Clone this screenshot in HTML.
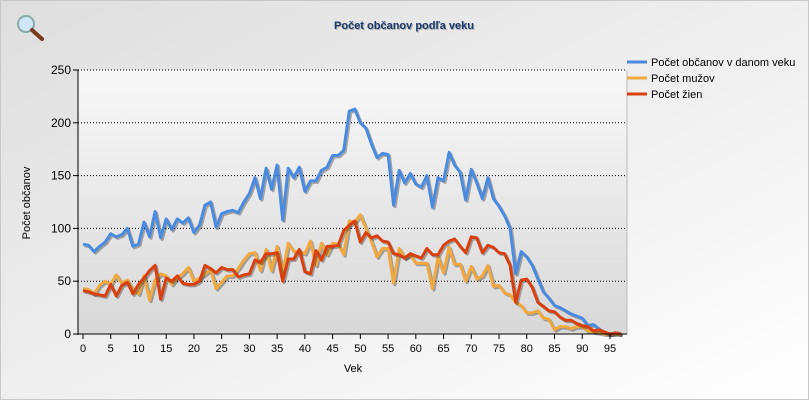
<!DOCTYPE html>
<html><head><meta charset="utf-8"><style>
body{margin:0;width:809px;height:400px;overflow:hidden;font-family:"Liberation Sans",Arial,sans-serif;}
</style></head><body>
<svg id="s" width="809" height="400" xmlns="http://www.w3.org/2000/svg" style="display:block">
<defs>
<linearGradient id="bg" x1="0" y1="0" x2="1" y2="1"><stop offset="0" stop-color="#dedede"/><stop offset="1" stop-color="#ffffff"/></linearGradient>
<linearGradient id="pa" x1="0" y1="0" x2="0" y2="1"><stop offset="0" stop-color="#f8f8f8"/><stop offset="1" stop-color="#d8d8d8"/></linearGradient>
</defs>
<rect width="809" height="400" fill="url(#bg)"/>
<rect x="0.5" y="0.5" width="808" height="399" fill="none" stroke="#c8c8c8"/>
<rect x="78" y="70" width="549" height="264" fill="url(#pa)"/>
<line x1="627" y1="70" x2="627" y2="334" stroke="#bbb"/>
<g id="grid"></g>
<g id="series"></g>
<line x1="78" y1="70" x2="78" y2="335" stroke="#000"/>
<line x1="78" y1="334" x2="627" y2="334" stroke="#000"/>
<g id="ticks" font-size="12" fill="#000"></g>
<text x="404" y="29" text-anchor="middle" font-size="11" font-weight="bold" fill="#aaa" dx="1" dy="1">Počet občanov podľa veku</text>
<text x="404" y="29" text-anchor="middle" font-size="11" font-weight="bold" fill="#1a3a6a">Počet občanov podľa veku</text>
<text x="353" y="372" text-anchor="middle" font-size="11">Vek</text>
<text transform="translate(30,203) rotate(-90)" text-anchor="middle" font-size="11">Počet občanov</text>
<g font-size="11">
<line x1="627" y1="62" x2="647" y2="62" stroke="#4a8be0" stroke-width="3"/><text x="651" y="66">Počet občanov v danom veku</text>
<line x1="627" y1="78" x2="647" y2="78" stroke="#f0a840" stroke-width="3"/><text x="651" y="82">Počet mužov</text>
<line x1="627" y1="94" x2="647" y2="94" stroke="#d84010" stroke-width="3"/><text x="651" y="98">Počet žien</text>
</g>
<g transform="translate(16,14)">
<circle cx="10" cy="10" r="8" fill="#cfe6f6" stroke="#8aa" stroke-width="2"/>
<line x1="16" y1="16" x2="26" y2="25" stroke="#7a3a20" stroke-width="4" stroke-linecap="round"/>
</g>
</svg>
<script>
var T=[85,84,78,83,87,95,92,94,100,83,85,106,92,116,91,109,99,109,105,110,96,103,122,125,101,114,116,117,115,125,133,148,128,157,137,160,108,157,148,158,135,145,145,155,158,169,169,174,211,213,200,195,180,167,171,170,122,155,143,152,142,139,150,120,148,145,172,160,153,127,156,143,128,148,128,121,112,100,57,78,73,65,52,40,34,27,25,22,19,17,15,8,9,5,1,0,1,0];
var M=[43,42,38,46,50,47,56,48,51,42,38,55,32,51,57,55,47,53,57,63,50,53,57,61,43,49,55,55,62,70,76,77,60,80,60,83,58,86,78,78,76,88,65,86,75,86,85,75,107,106,113,100,88,73,81,81,48,81,72,75,67,67,67,43,73,58,82,66,66,50,64,52,55,65,45,46,39,37,30,27,20,20,22,15,14,4,7,7,5,7,7,3,2,1,0,0,0,0];
var W=[41,40,38,37,36,47,36,46,49,38,47,53,60,65,33,53,50,55,48,47,47,50,65,62,58,63,61,61,54,56,57,70,68,76,76,77,50,71,71,80,59,57,79,70,83,83,84,98,103,107,87,96,91,93,88,87,76,75,72,76,74,72,81,75,75,84,88,90,83,77,92,91,77,84,82,77,76,65,30,51,52,44,30,26,22,21,16,13,13,10,8,7,3,4,2,0,1,0];
var NS="http://www.w3.org/2000/svg";
function X(i){return 83+i*5.547;}function Y(v){return 334-v*1.056;}
function el(p,t,a){var e=document.createElementNS(NS,t);for(var k in a)e.setAttribute(k,a[k]);p.appendChild(e);return e;}
var g=document.getElementById('grid'),tk=document.getElementById('ticks'),sr=document.getElementById('series');
for(var v=0;v<=250;v+=50){var y=Y(v);if(v>0)el(g,'line',{x1:78,y1:y,x2:627,y2:y,stroke:'#000','stroke-dasharray':'1,2'});
el(tk,'line',{x1:73,y1:y,x2:78,y2:y,stroke:'#000'});var t=el(tk,'text',{x:71,y:y+4,'text-anchor':'end'});t.textContent=v;}
for(var i=0;i<=95;i+=5){var x=X(i);el(tk,'line',{x1:x,y1:334,x2:x,y2:339,stroke:'#000'});var t=el(tk,'text',{x:x,y:352,'text-anchor':'middle','font-size':'11'});t.textContent=i;}
function pts(a,o){return a.map(function(v,i){return (X(i)+o).toFixed(1)+','+(Y(v)+o).toFixed(1)}).join(' ');}
[[T,'#4a8be0'],[M,'#f0a840'],[W,'#d84010']].forEach(function(s){
el(sr,'polyline',{points:pts(s[0],1.5),fill:'none',stroke:'rgba(0,0,0,0.3)','stroke-width':3,'stroke-linejoin':'round'});
el(sr,'polyline',{points:pts(s[0],0),fill:'none',stroke:s[1],'stroke-width':3,'stroke-linejoin':'round'});});
</script>
</body></html>
